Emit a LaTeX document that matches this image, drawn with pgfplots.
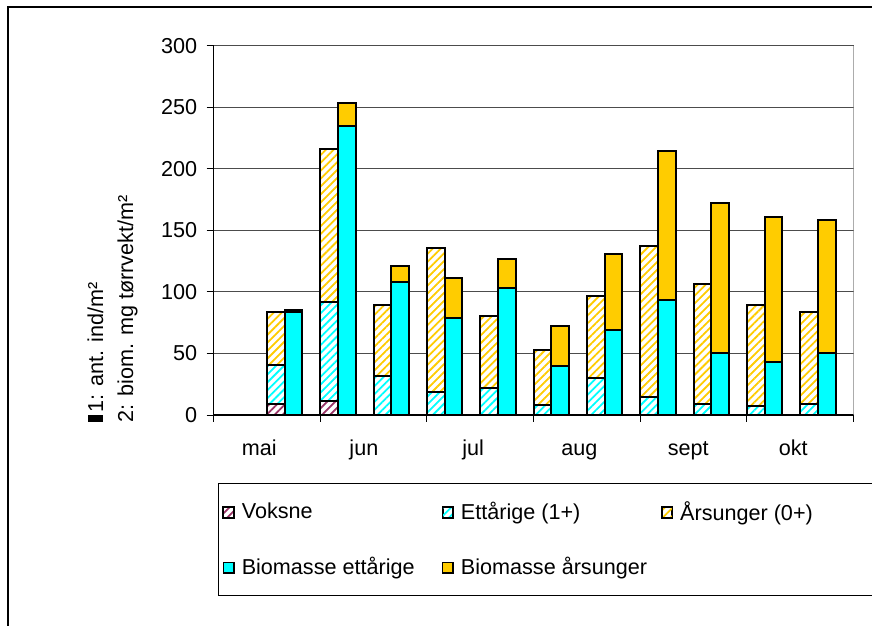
\documentclass[border=0pt]{standalone}
\usepackage{fontspec}
\setmainfont{Liberation Sans}
\usepackage{pgfplots}
\pgfplotsset{compat=1.18}
\usetikzlibrary{patterns.meta}

\definecolor{plum}{HTML}{993366}
\definecolor{xcyan}{HTML}{00FFFF}
\definecolor{xgold}{HTML}{FFCC00}
\newcommand\myfont{\fontsize{10.8bp}{13bp}\selectfont}
\newcommand\lentry[1]{\makebox[99.5bp][l]{\hspace{1.5bp}#1}}

\pgfplotsset{
  base/.style={
    scale only axis, width=320bp, height=184.7bp,
    at={(106.75bp,-22.8bp)}, anchor=north west,
    xmin=0, xmax=12, ymin=0, ymax=300, enlargelimits=false,
    ybar stacked, bar width=0.333,
  },
  sqlegend/.style={legend image code/.code={
    \draw[##1, line width=0.8bp] (0bp,-2.65bp) rectangle (5.3bp,2.65bp);}},
  hatchbar/.style={preaction={fill=white}, draw=black, line width=1bp,
    pattern={Lines[angle=45,distance=2.8bp,line width=0.9bp]}, pattern color=#1, sqlegend},
  fullbar/.style={fill=#1, draw=black, line width=1bp, sqlegend},
}

\begin{document}
\begin{tikzpicture}[font=\myfont]
\path[use as bounding box] (0bp,0bp) rectangle (436bp,-313bp);
\draw[line width=0.75bp] (4bp,-320bp) -- (4bp,-3.5bp) -- (440bp,-3.5bp);

\begin{axis}[
  base,
  axis lines=left, axis line style={-, black, line width=0.6bp},
  ytick={0,50,...,300},
  xtick={0,2,...,12}, xticklabels={},
  extra x ticks={0.86,2.82,4.87,6.86,8.90,10.87},
  extra x tick labels={mai,jun,jul,aug,sept,okt},
  extra x tick style={major tick length=0pt, tick label style={anchor=base, yshift=-20bp}},
  ymajorgrids, grid style={black!70, line width=0.6bp},
  tick align=outside, major tick length=3.4bp,
  tick style={black, line width=0.5bp},
  /pgf/number format/assume math mode=true,
  tick label style={font=\myfont},
  yticklabel style={xshift=-1.3bp},
  legend columns=3,
  legend style={at={(0.007,-0.184)}, anchor=north west, draw=black, line width=0.6bp,
    inner xsep=2bp, inner ysep=7bp, row sep=13bp, font=\myfont,
    cells={anchor=west}, nodes={inner sep=2bp}},
]
% antall: voksne, ettaarige, aarsunger (segmenter)
\addplot[hatchbar=plum] coordinates {
  (1.1667,9) (2.1667,11) (3.1667,0) (4.1667,0) (5.1667,0) (6.1667,0)
  (7.1667,0) (8.1667,0) (9.1667,0) (10.1667,0) (11.1667,0)};
\addlegendentry{\lentry{Voksne}}
\addplot[hatchbar=xcyan] coordinates {
  (1.1667,32) (2.1667,81) (3.1667,32) (4.1667,19) (5.1667,22) (6.1667,8)
  (7.1667,30) (8.1667,15) (9.1667,9) (10.1667,7) (11.1667,9)};
\addlegendentry{\lentry{Ettårige (1+)}}
\addplot[hatchbar=xgold] coordinates {
  (1.1667,43) (2.1667,124) (3.1667,57) (4.1667,117) (5.1667,58) (6.1667,45)
  (7.1667,67) (8.1667,122) (9.1667,97) (10.1667,82) (11.1667,75)};
\addlegendentry{\lentry{Årsunger (0+)}}
\addlegendimage{fullbar=xcyan}
\addlegendentry{\lentry{Biomasse ettårige}}
\addlegendimage{fullbar=xgold}
\addlegendentry{\lentry{Biomasse årsunger}}
\draw[black!50, line width=0.6bp] (rel axis cs:1,0) -- (rel axis cs:1,1);
\end{axis}

\begin{axis}[base, hide axis]
% biomasse: ettaarige, aarsunger (segmenter)
\addplot[fullbar=xcyan] coordinates {
  (1.5,84) (2.5,235) (3.5,108) (4.5,79) (5.5,103) (6.5,40)
  (7.5,69) (8.5,93) (9.5,50) (10.5,43) (11.5,50)};
\addplot[fullbar=xgold] coordinates {
  (1.5,1.5) (2.5,18) (3.5,13) (4.5,32) (5.5,24) (6.5,32)
  (7.5,62) (8.5,121) (9.5,122) (10.5,118) (11.5,108)};
\end{axis}

\fill (44bp,-207.5bp) rectangle (51.5bp,-211bp);
\node[rotate=90, anchor=base west, inner sep=0pt] at (51.5bp,-206.5bp) {1: ant. ind/m²};
\node[rotate=90, anchor=base west, inner sep=0pt] at (66.5bp,-211.5bp) {2: biom. mg tørrvekt/m²};
\end{tikzpicture}
\end{document}
